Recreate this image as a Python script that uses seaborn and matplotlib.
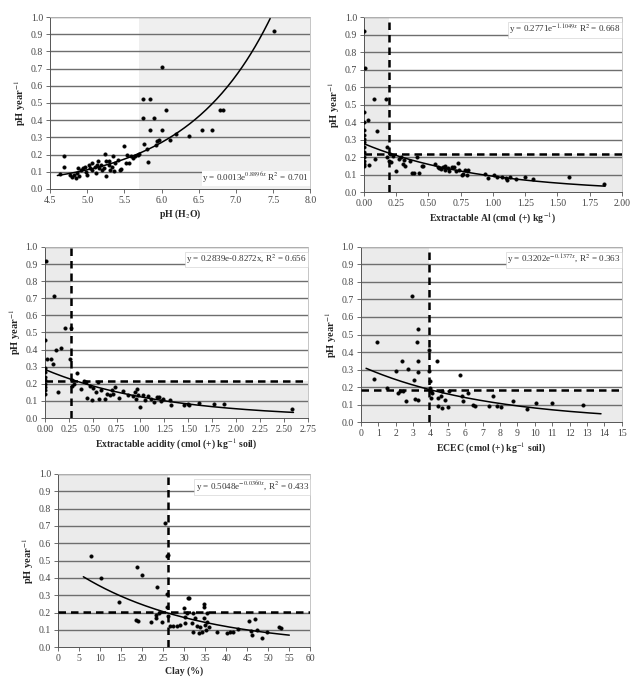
import numpy as np
import pandas as pd
import seaborn as sns
import matplotlib.pyplot as plt

sns.set_theme(style="white")
plt.rcParams['font.family'] = ['Liberation Serif', 'DejaVu Serif']
plt.rcParams['mathtext.fontset'] = 'stix'

# panel 1: pH (H2O)
ph_x = [4.63, 4.69, 4.69, 4.77, 4.79, 4.82, 4.85, 4.86, 4.88, 4.89, 4.92, 4.94, 4.97, 4.99, 5.0,
        5.02, 5.04, 5.06, 5.07, 5.10, 5.12, 5.13, 5.14, 5.16, 5.18, 5.20, 5.23, 5.24, 5.25, 5.26,
        5.29, 5.30, 5.31, 5.33, 5.35, 5.36, 5.38, 5.42, 5.44, 5.46, 5.50, 5.52, 5.54, 5.56, 5.59,
        5.62, 5.64, 5.68, 5.70, 5.75, 5.75, 5.76, 5.80, 5.82, 5.85, 5.85, 5.90, 5.92, 5.94, 5.97,
        6.0, 6.0, 6.06, 6.12, 6.20, 6.37, 6.55, 6.68, 6.79, 6.83, 7.51]
ph_y = [0.089, 0.19, 0.126, 0.083, 0.07, 0.08, 0.064, 0.093, 0.122, 0.078, 0.112, 0.122, 0.13, 0.10, 0.08,
        0.14, 0.12, 0.15, 0.11, 0.13, 0.093, 0.14, 0.16, 0.12, 0.14, 0.11, 0.12, 0.205, 0.074, 0.16,
        0.14, 0.16, 0.11, 0.13, 0.19, 0.107, 0.15, 0.17, 0.11, 0.116, 0.25, 0.15, 0.20, 0.15, 0.19,
        0.18, 0.19, 0.20, 0.205, 0.525, 0.413, 0.264, 0.23, 0.157, 0.525, 0.345, 0.41, 0.258, 0.277, 0.287,
        0.71, 0.345, 0.457, 0.287, 0.32, 0.306, 0.345, 0.345, 0.457, 0.457, 0.917]

# panel 2: extractable Al
al_x = [0, 0.01, 0, 0, 0, 0, 0, 0, 0, 0, 0, 0, 0, 0, 0.03, 0.04, 0.08, 0.085, 0.10, 0.17,
        0.18, 0.18, 0.19, 0.20, 0.21, 0.225, 0.25, 0.27, 0.29, 0.30, 0.31, 0.32, 0.36, 0.375, 0.39,
        0.41, 0.43, 0.45, 0.46, 0.55, 0.57, 0.58, 0.60, 0.61, 0.63, 0.63, 0.65, 0.66, 0.68, 0.70,
        0.71, 0.73, 0.74, 0.76, 0.77, 0.78, 0.80, 0.81, 0.94, 0.96, 1.01, 1.03, 1.07, 1.10, 1.11,
        1.13, 1.18, 1.25, 1.31, 1.59, 1.86]
al_y = [0.918, 0.707, 0.46, 0.40, 0.354, 0.325, 0.306, 0.287, 0.258, 0.23, 0.20, 0.18, 0.163, 0.153, 0.41,
        0.157, 0.53, 0.19, 0.35, 0.53, 0.258, 0.20, 0.18, 0.22, 0.172, 0.21, 0.12, 0.19, 0.20, 0.163,
        0.185, 0.153, 0.18, 0.11, 0.11, 0.20, 0.11, 0.15, 0.153, 0.163, 0.143, 0.138, 0.134, 0.143, 0.15,
        0.128, 0.138, 0.12, 0.143, 0.147, 0.124, 0.168, 0.128, 0.10, 0.105, 0.128, 0.10, 0.128, 0.105, 0.082,
        0.096, 0.09, 0.086, 0.082, 0.07, 0.086, 0.076, 0.086, 0.076, 0.09, 0.05]

# panel 3: extractable acidity
ac_x = [0.01, 0, 0.02, 0, 0, 0, 0, 0, 0, 0, 0, 0.06, 0.08, 0.10, 0.12, 0.14, 0.17, 0.21, 0.26, 0.27,
        0.28, 0.28, 0.30, 0.34, 0.38, 0.41, 0.43, 0.44, 0.47, 0.49, 0.50, 0.54, 0.56, 0.57, 0.59,
        0.63, 0.65, 0.68, 0.70, 0.71, 0.73, 0.78, 0.82, 0.87, 0.92, 0.94, 0.95, 0.96, 0.97, 0.99,
        1.03, 1.05, 1.08, 1.11, 1.14, 1.17, 1.19, 1.21, 1.24, 1.31, 1.32, 1.46, 1.50, 1.51, 1.61,
        1.77, 1.87, 2.59]
ac_y = [0.916, 0.454, 0.347, 0.29, 0.27, 0.24, 0.22, 0.20, 0.18, 0.162, 0.142, 0.347, 0.318, 0.713, 0.40,
        0.152, 0.41, 0.526, 0.347, 0.526, 0.22, 0.19, 0.20, 0.265, 0.168, 0.214, 0.21, 0.117, 0.19, 0.103,
        0.175, 0.152, 0.21, 0.109, 0.162, 0.109, 0.142, 0.133, 0.162, 0.142, 0.18, 0.117, 0.156, 0.133, 0.129,
        0.152, 0.113, 0.172, 0.133, 0.064, 0.133, 0.103, 0.129, 0.113, 0.094, 0.123, 0.123, 0.097, 0.113, 0.103,
        0.078, 0.078, 0.084, 0.074, 0.088, 0.08, 0.08, 0.055]

# panel 4: ECEC
ec_x = [0.77, 0.92, 1.53, 2.01, 2.15, 2.24, 2.36, 2.43, 2.59, 2.68, 2.93, 3.03, 3.12, 3.20, 3.26,
        3.28, 3.30, 3.31, 3.93, 3.93, 3.97, 3.98, 4.02, 4.02, 4.08, 4.35, 4.41, 4.46, 4.60, 4.66,
        4.69, 4.85, 4.98, 5.08, 5.69, 5.80, 5.88, 6.13, 6.42, 6.57, 7.38, 7.57, 7.82, 8.08, 8.72,
        9.54, 10.06, 11.0, 12.74]
ec_y = [0.248, 0.46, 0.194, 0.29, 0.166, 0.175, 0.347, 0.175, 0.118, 0.305, 0.718, 0.242, 0.133, 0.46, 0.53,
        0.35, 0.284, 0.128, 0.413, 0.29, 0.232, 0.194, 0.175, 0.137, 0.166, 0.347, 0.09, 0.137, 0.147, 0.08,
        0.179, 0.128, 0.084, 0.175, 0.27, 0.152, 0.118, 0.166, 0.099, 0.09, 0.09, 0.147, 0.09, 0.084, 0.118,
        0.074, 0.108, 0.108, 0.099]

# panel 5: clay
cl_x = [7.7, 10.1, 14.5, 18.7, 20.0, 18.5, 18.9, 22.0, 23.6, 23.3, 23.3, 24.1, 24.6, 25.4, 25.8,
        26.1, 25.8, 26.0, 26.2, 26.6, 27.3, 28.2, 29.0, 30.0, 30.2, 30.2, 30.6, 30.8, 31.2, 31.8,
        32.0, 32.2, 32.6, 33.0, 33.4, 33.8, 34.2, 34.6, 34.8, 34.7, 35.0, 35.2, 35.4, 35.5, 35.8,
        37.8, 40.1, 41.0, 41.5, 42.7, 45.3, 45.9, 46.1, 46.9, 47.3, 48.5, 49.7, 52.5, 53.0]
cl_y = [0.527, 0.402, 0.262, 0.462, 0.415, 0.158, 0.152, 0.148, 0.346, 0.187, 0.167, 0.196, 0.148, 0.715, 0.527,
        0.533, 0.308, 0.235, 0.183, 0.123, 0.123, 0.125, 0.129, 0.225, 0.177, 0.138, 0.196, 0.287, 0.287, 0.138,
        0.196, 0.09, 0.167, 0.123, 0.081, 0.119, 0.09, 0.235, 0.25, 0.167, 0.129, 0.1, 0.196, 0.148, 0.119,
        0.09, 0.081, 0.09, 0.085, 0.106, 0.154, 0.096, 0.071, 0.162, 0.1, 0.052, 0.09, 0.119, 0.11]

# fitted exponential y = a*exp(b*x), drawn over the data range
fit_a = [0.0013, 0.2771, 0.2839, 0.3202, 0.5048]
fit_b = [0.8896, -1.1049, -0.8272, -0.1377, -0.0360]
fit_from = [4.6, 0.0, 0.0, 0.3, 6.0]
fit_to = [7.46, 1.87, 2.6, 13.8, 55.0]
eq_text = [r'y = 0.0013e$^{0.8896x}$ R$^2$ = 0.701',
           r'y = 0.2771e$^{-1.1049x}$ R$^2$ = 0.668',
           r'y = 0.2839e-0.8272x, R$^2$ = 0.656',
           r'y = 0.3202e$^{-0.1377x}$, R$^2$ = 0.363',
           r'y = 0.5048e$^{-0.0360x}$, R$^2$ = 0.433']

# critical limits (dashed lines)
crit_x = [None, 0.19, 0.27, 3.93, 26.2]
crit_y = [None, 0.22, 0.218, 0.185, 0.204]

x_labels = [r'pH (H$_2$O)',
            r'Extractable Al (cmol (+) kg$^{-1}$)',
            r'Extractable acidity (cmol (+) kg$^{-1}$ soil)',
            r'ECEC (cmol (+) kg$^{-1}$ soil)',
            'Clay (%)']
x_ticks = [np.arange(4.5, 8.01, 0.5), np.arange(0, 2.01, 0.25), np.arange(0, 2.76, 0.25),
           np.arange(0, 16, 1), np.arange(0, 61, 5)]
x_fmt = ['{:.1f}', '{:.2f}', '{:.2f}', '{:.0f}', '{:.0f}']

rects = [[0.079, 0.723, 0.412, 0.252], [0.576, 0.718, 0.408, 0.257],
         [0.071, 0.387, 0.416, 0.251], [0.571, 0.381, 0.413, 0.257],
         [0.092, 0.051, 0.399, 0.254]]

xs = [ph_x, al_x, ac_x, ec_x, cl_x]
ys = [ph_y, al_y, ac_y, ec_y, cl_y]

fig = plt.figure(figsize=(6.32, 6.82), dpi=100)
shade = '#ebebeb'

for i in range(5):
    ax = fig.add_axes(rects[i])
    xt = x_ticks[i]
    x0, x1 = xt[0], xt[-1]

    # grey background zones
    if i == 0:
        ax.axvspan(5.7, x1, color='#efefef', zorder=0, lw=0)
    else:
        ax.axvspan(x0, crit_x[i], color=shade, zorder=0, lw=0)
        ax.fill_between([crit_x[i], x1], 0, crit_y[i], color=shade, zorder=0, lw=0)

    for g in np.arange(0.1, 1.01, 0.1):
        ax.axhline(g, color='#6e6e6e', lw=1.0, zorder=1)

    df = pd.DataFrame({'x': xs[i], 'y': ys[i]})
    sns.scatterplot(data=df, x='x', y='y', ax=ax, color='black', s=7, edgecolor='black',
                    linewidth=0.2, zorder=4)

    fx = np.linspace(fit_from[i], fit_to[i], 200)
    fit = pd.DataFrame({'x': fx, 'y': fit_a[i] * np.exp(fit_b[i] * fx)})
    sns.lineplot(data=fit, x='x', y='y', ax=ax, color='black', lw=1.1, zorder=3)

    if crit_x[i] is not None:
        ax.axvline(crit_x[i], color='black', lw=1.8, ls=(0, (3, 2)), zorder=5)
        ax.axhline(crit_y[i], color='black', lw=1.8, ls=(0, (3, 2)), zorder=5)

    ax.set_xlim(x0, x1)
    ax.set_ylim(0, 1.0)
    ax.set_xticks(xt)
    ax.set_xticklabels([x_fmt[i].format(v) for v in xt], fontsize=7, color='#444444')
    ax.set_yticks(np.arange(0, 1.01, 0.1))
    ax.set_yticklabels(['{:.1f}'.format(v) for v in np.arange(0, 1.01, 0.1)], fontsize=7,
                       color='#444444')
    ax.tick_params(axis='both', length=3, width=0.6, color='#555555', pad=2,
                   bottom=True, left=True)
    ax.set_xlabel(x_labels[i], fontsize=7, fontweight='bold', labelpad=2)
    ax.set_ylabel(r'pH year$^{-1}$', fontsize=7.5, fontweight='bold', labelpad=2)
    for side in ['top', 'right']:
        ax.spines[side].set_color('#bbbbbb')
        ax.spines[side].set_linewidth(0.6)
    for side in ['left', 'bottom']:
        ax.spines[side].set_color('#555555')
        ax.spines[side].set_linewidth(0.7)

    if i == 0:
        ax.text(0.995, 0.02, eq_text[i], transform=ax.transAxes, ha='right', va='bottom',
                fontsize=6.5, color='#333333', zorder=6,
                bbox=dict(facecolor='white', edgecolor='none', pad=0.5))
    else:
        ax.text(0.995, 0.965, eq_text[i], transform=ax.transAxes, ha='right', va='top',
                fontsize=6.5, color='#333333', zorder=6,
                bbox=dict(facecolor='white', edgecolor='#cccccc', lw=0.4, pad=0.8))

fig.savefig('out.png', dpi=100)
